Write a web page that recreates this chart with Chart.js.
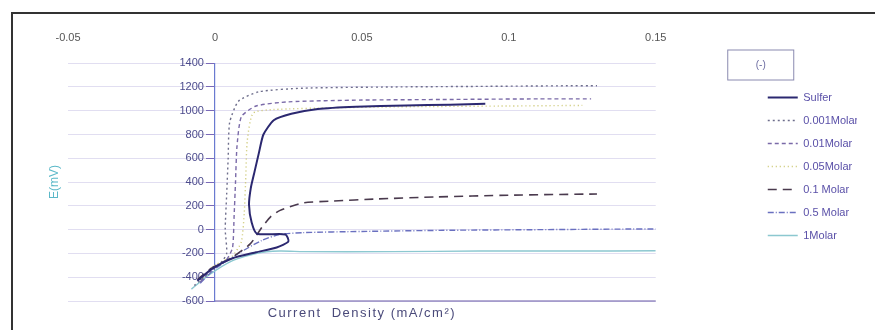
<!DOCTYPE html>
<html><head><meta charset="utf-8">
<script src="https://cdn.jsdelivr.net/npm/chart.js@4.4.0/dist/chart.umd.min.js"></script>
<style>html,body{margin:0;padding:0;background:#fff;}</style>
</head><body>
<canvas id="c" width="875" height="330"></canvas>
<script>
// ---- data ----
const xTickValues = [-0.05, 0, 0.05, 0.1, 0.15];
const yTickValues = [-600, -400, -200, 0, 200, 400, 600, 800, 1000, 1200, 1400];
const seriesNames = ['Sulfer', '0.001Molar', '0.01Molar', '0.05Molar', '0.1 Molar', '0.5 Molar', '1Molar'];
const xTitle = 'Current  Density (mA/cm²)';
const yTitle = 'E(mV)';
const legendTitle = '(-)';

const sulferI = [-0.006, -0.001, 0.006, 0.014, 0.021, 0.025, 0.024, 0.0143, 0.0125, 0.0116, 0.0122, 0.0135, 0.015, 0.0165, 0.020, 0.026, 0.035, 0.048, 0.065, 0.080, 0.092];
const sulferE = [-430, -330, -240, -190, -150, -100, -40, -34, 60, 210, 350, 490, 650, 800, 920, 975, 1015, 1034, 1045, 1050, 1058];

const m0001I = [-0.007, -0.002, 0.002, 0.004, 0.0035, 0.004, 0.0045, 0.005, 0.008, 0.015, 0.03, 0.06, 0.09, 0.12, 0.13];
const m0001E = [-470, -360, -280, -200, 0, 300, 600, 900, 1080, 1160, 1190, 1200, 1205, 1210, 1210];

const m001I = [-0.005, -0.001, 0.004, 0.006, 0.0065, 0.007, 0.0075, 0.009, 0.014, 0.025, 0.05, 0.08, 0.11, 0.128];
const m001E = [-440, -330, -250, -150, 100, 400, 700, 950, 1040, 1075, 1090, 1095, 1100, 1100];

const m005I = [-0.004, 0.0, 0.006, 0.009, 0.010, 0.0105, 0.011, 0.013, 0.02, 0.04, 0.07, 0.1, 0.125];
const m005E = [-400, -300, -220, -100, 150, 450, 750, 980, 1010, 1025, 1035, 1040, 1045];

const m01I = [-0.006, -0.001, 0.006, 0.012, 0.016, 0.019, 0.022, 0.03, 0.04, 0.055, 0.075, 0.1, 0.13];
const m01E = [-420, -320, -230, -120, 20, 110, 160, 225, 240, 258, 275, 290, 300];

const m05I = [-0.005, 0.0, 0.008, 0.016, 0.022, 0.03, 0.05, 0.08, 0.11, 0.14, 0.15];
const m05E = [-450, -330, -200, -90, -40, -25, -15, -5, 0, 5, 5];

const m1I = [-0.008, -0.002, 0.006, 0.014, 0.022, 0.03, 0.06, 0.09, 0.12, 0.15];
const m1E = [-500, -380, -260, -200, -180, -185, -185, -180, -180, -178];

const seriesI = [sulferI, m0001I, m001I, m005I, m01I, m05I, m1I];
const seriesE = [sulferE, m0001E, m001E, m005E, m01E, m05E, m1E];

// ---- styles ----
const colors = ['#2b2870', '#6e6e8c', '#7a6aa8', '#c9c46a', '#4a3a4e', '#6a70c0', '#8cc8d0'];
const dashes = [[], [2, 3], [4, 3], [1, 3], [9, 6], [6, 2, 1, 2], []];
const widths = [2, 1.4, 1.4, 1.4, 1.6, 1.4, 1.4];

const FONT = "'Liberation Sans', sans-serif";

const datasets = seriesNames.map((n, k) => ({
  label: n,
  data: seriesI[k].map((x, i) => ({x: x, y: seriesE[k][i]})),
  borderColor: colors[k],
  backgroundColor: colors[k],
  borderDash: dashes[k],
  borderWidth: widths[k],
  pointRadius: 0,
  showLine: true,
  tension: 0.2
}));

const framePlugin = {
  id: 'frame',
  beforeDraw(chart) {
    const ctx = chart.ctx;
    ctx.save();
    ctx.fillStyle = '#fff';
    ctx.fillRect(0, 0, chart.width, chart.height);
    ctx.strokeStyle = '#333';
    ctx.lineWidth = 2;
    ctx.beginPath();
    ctx.moveTo(12, 330);
    ctx.lineTo(12, 13);
    ctx.lineTo(875, 13);
    ctx.stroke();
    ctx.restore();
  },
  afterDraw(chart) {
    const ctx = chart.ctx;
    const ca = chart.chartArea;
    const x0 = chart.scales.x.getPixelForValue(0);
    ctx.save();
    ctx.strokeStyle = '#6a5aa8';
    ctx.lineWidth = 1.2;
    ctx.beginPath();
    ctx.moveTo(x0, ca.bottom);
    ctx.lineTo(ca.right, ca.bottom);
    ctx.stroke();
    // x axis title below the plot
    ctx.fillStyle = '#4a4a7a';
    ctx.font = "13px " + FONT;
    if ('letterSpacing' in ctx) ctx.letterSpacing = '1.5px';
    ctx.textAlign = 'center';
    ctx.textBaseline = 'middle';
    ctx.fillText(xTitle, (ca.left + ca.right) / 2, ca.bottom + 12);
    if ('letterSpacing' in ctx) ctx.letterSpacing = '0px';
    // legend title box
    const lg = chart.legend;
    const bx = lg.left - 28, by = 50;
    ctx.strokeStyle = '#8a8ab0';
    ctx.lineWidth = 1;
    ctx.strokeRect(bx, by, 66, 30);
    ctx.fillStyle = '#6a6aa0';
    ctx.font = "10px " + FONT;
    ctx.fillText(legendTitle, bx + 33, by + 15);
    ctx.restore();
  }
};

new Chart(document.getElementById('c'), {
  type: 'scatter',
  data: {datasets},
  plugins: [framePlugin],
  options: {
    responsive: false,
    animation: false,
    layout: {padding: {top: 12, left: 47, right: 18, bottom: 29}},
    plugins: {
      tooltip: {enabled: false},
      legend: {
        position: 'right',
        align: 'start',
        title: {display: true, text: legendTitle, color: 'rgba(0,0,0,0)', padding: {top: 29, bottom: 27}, font: {family: FONT, size: 10}},
        labels: {
          usePointStyle: true,
          pointStyle: 'line',
          pointStyleWidth: 30,
          boxHeight: 10,
          padding: 12,
          color: '#5a50a8',
          font: {family: FONT, size: 11},
          generateLabels: (chart) => chart.data.datasets.map((d, i) => ({
            text: d.label,
            strokeStyle: d.borderColor,
            fillStyle: d.borderColor,
            lineWidth: d.borderWidth,
            lineDash: d.borderDash,
            pointStyle: 'line',
            datasetIndex: i,
            hidden: false,
            fontColor: '#5a50a8'
          }))
        }
      }
    },
    scales: {
      x: {
        type: 'linear',
        position: 'top',
        min: -0.05, max: 0.15,
        afterBuildTicks: s => { s.ticks = xTickValues.map(v => ({value: v})); },
        grid: {display: false, drawTicks: false},
        border: {display: false},
        ticks: {padding: 19, color: '#555', font: {family: FONT, size: 11}, callback: v => String(v)}
      },
      y: {
        type: 'linear',
        position: {x: 0},
        min: -600, max: 1400,
        afterBuildTicks: s => { s.ticks = yTickValues.map(v => ({value: v})); },
        grid: {color: 'rgba(170,160,215,0.35)', tickColor: '#7a6ab8', tickLength: 8},
        border: {color: '#6a7ad0', width: 1.2},
        ticks: {padding: 11, color: '#4b4a8c', font: {family: FONT, size: 11}, callback: v => String(v) + '\u2002\u2002'}
      },
      yTitle: {
        type: 'linear',
        position: 'left',
        min: -600, max: 1400,
        grid: {display: false, drawTicks: false},
        border: {display: false},
        ticks: {display: false},
        afterFit: s => { s.width = 21; },
        title: {display: true, text: yTitle, color: '#5bb8c8', padding: 0, font: {family: FONT, size: 12}}
      },
      yGap: {
        type: 'linear',
        position: 'right',
        grid: {display: false, drawTicks: false},
        border: {display: false},
        ticks: {display: false},
        afterFit: s => { s.width = 100; }
      }
    }
  }
});
</script>
</body></html>
